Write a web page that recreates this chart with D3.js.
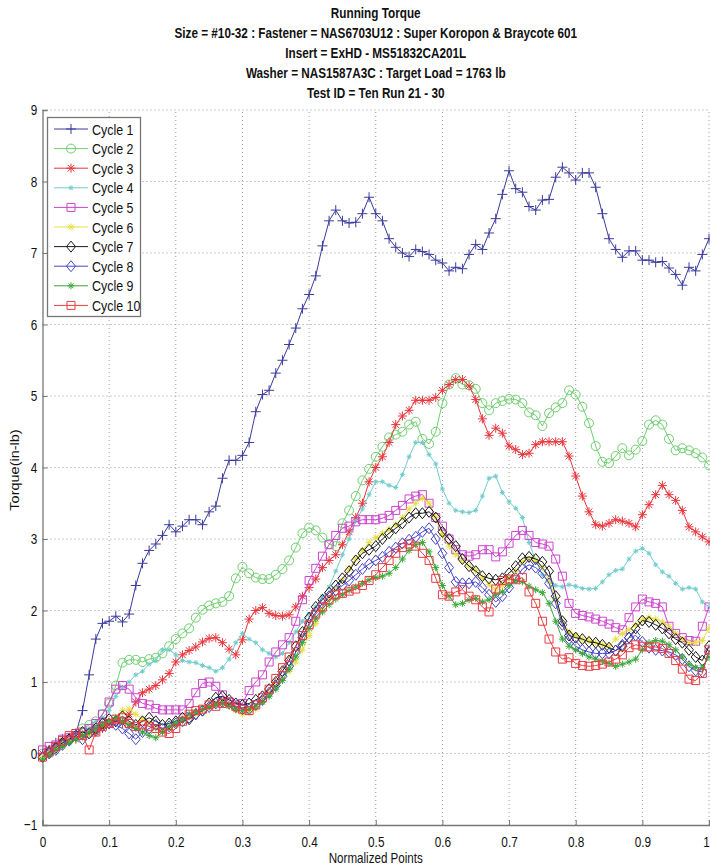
<!DOCTYPE html>
<html>
<head>
<meta charset="utf-8">
<script src="https://cdn.jsdelivr.net/npm/d3@7"></script>
<style>
body { margin: 0; background: #fff; }
text { font-family: "Liberation Sans", Arial, sans-serif; fill: #111; }
</style>
</head>
<body>
<svg id="chart" width="710" height="867"></svg>
<script>
var titleLines = [
  "Running Torque",
  "Size = #10-32 : Fastener = NAS6703U12 : Super Koropon & Braycote 601",
  "Insert = ExHD - MS51832CA201L",
  "Washer = NAS1587A3C : Target Load = 1763 lb",
  "Test ID = Ten Run 21 - 30"
];
var xLabel = "Normalized Points";
var yLabel = "Torque(in-lb)";
var seriesNames = ["Cycle 1","Cycle 2","Cycle 3","Cycle 4","Cycle 5","Cycle 6","Cycle 7","Cycle 8","Cycle 9","Cycle 10"];
var xTicks = [0,0.1,0.2,0.3,0.4,0.5,0.6,0.7,0.8,0.9,1];
var yTicks = [-1,0,1,2,3,4,5,6,7,8,9];

// normalized sample positions, 101 points
var points = d3.range(0, 101).map(function(i){ return i / 100; });

var cycle1 = [0.0,0.05,0.15,0.2,0.22,0.28,0.6,1.1,1.6,1.82, 1.85,1.92,1.84,1.95,2.35,2.66,2.84,2.93,3.05,3.2,
  3.1,3.18,3.27,3.27,3.2,3.38,3.46,3.85,4.1,4.1, 4.17,4.35,4.78,5.02,5.08,5.32,5.5,5.72,5.95,6.22,
  6.42,6.68,7.1,7.45,7.6,7.45,7.42,7.43,7.55,7.78, 7.55,7.45,7.2,7.08,7.0,6.95,7.05,7.02,6.98,6.9,
  6.86,6.75,6.8,6.78,6.98,7.12,7.05,7.28,7.48,7.82, 8.15,7.9,7.85,7.65,7.6,7.74,7.75,8.06,8.2,8.12,
  8.02,8.12,8.12,7.92,7.55,7.2,7.05,6.94,7.03,7.03, 6.9,6.9,6.87,6.88,6.79,6.7,6.55,6.8,6.75,6.98, 7.2];
var cycle2 = [0.0,0.02,0.1,0.15,0.2,0.25,0.35,0.4,0.45,0.55, 0.7,0.95,1.27,1.31,1.31,1.28,1.32,1.34,1.4,1.5,
  1.6,1.68,1.75,1.9,2.01,2.07,2.1,2.12,2.2,2.45, 2.61,2.52,2.46,2.44,2.44,2.5,2.58,2.7,2.88,3.08,
  3.16,3.12,3.02,2.93,2.9,3.22,3.4,3.6,3.82,3.98, 4.15,4.29,4.42,4.46,4.5,4.6,4.64,4.4,4.33,4.5,
  4.9,5.16,5.25,5.16,5.15,5.1,4.9,4.8,4.9,4.93, 4.96,4.95,4.9,4.77,4.73,4.58,4.76,4.84,4.9,5.08,
  5.02,4.85,4.62,4.3,4.08,4.06,4.16,4.27,4.17,4.25, 4.37,4.6,4.66,4.6,4.4,4.24,4.27,4.24,4.2,4.14, 4.03];
var cycle3 = [0.0,0.05,0.1,0.15,0.2,0.2,0.25,0.3,0.3,0.35, 0.4,0.45,0.42,0.55,0.72,0.85,0.9,0.95,1.03,1.12,
  1.28,1.38,1.44,1.49,1.56,1.61,1.62,1.55,1.46,1.38, 1.59,1.88,2.0,2.04,1.96,1.93,1.92,1.94,2.05,2.2,
  2.32,2.44,2.6,2.7,2.78,2.92,3.1,3.3,3.5,3.8, 4.0,4.15,4.35,4.6,4.72,4.8,4.94,4.94,4.94,4.98,
  5.08,5.16,5.23,5.23,5.14,4.95,4.68,4.45,4.55,4.48, 4.3,4.25,4.18,4.2,4.32,4.36,4.36,4.36,4.36,4.16,
  3.88,3.6,3.38,3.2,3.18,3.22,3.27,3.25,3.22,3.17, 3.34,3.48,3.62,3.75,3.62,3.54,3.4,3.17,3.1,3.03, 2.96];
var cycle4 = [0.0,0.05,0.1,0.15,0.2,0.2,0.3,0.35,0.45,0.5, 0.6,0.8,0.92,1.0,1.1,1.15,1.25,1.3,1.45,1.45,
  1.38,1.3,1.28,1.27,1.23,1.2,1.15,1.2,1.32,1.55, 1.68,1.6,1.55,1.45,1.4,1.35,1.4,1.55,1.7,1.85,
  1.95,2.05,2.2,2.33,2.55,2.78,3.0,3.25,3.42,3.62, 3.8,3.8,3.75,3.72,3.9,4.15,4.35,4.35,4.18,4.05,
  3.7,3.5,3.4,3.38,3.37,3.4,3.6,3.85,3.88,3.65, 3.52,3.43,3.3,2.95,2.7,2.5,2.4,2.35,2.33,2.36,
  2.34,2.31,2.3,2.31,2.4,2.5,2.56,2.58,2.72,2.83, 2.87,2.8,2.64,2.54,2.48,2.38,2.3,2.32,2.3,2.12, 2.05];
var cycle5 = [0.05,0.1,0.12,0.2,0.22,0.25,0.3,0.35,0.42,0.55, 0.72,0.9,0.95,0.9,0.78,0.7,0.68,0.63,0.61,0.61,
  0.61,0.61,0.7,0.85,0.98,1.0,0.94,0.82,0.72,0.68, 0.7,0.88,1.0,1.1,1.28,1.42,1.52,1.62,1.85,2.15,
  2.42,2.59,2.76,2.92,3.05,3.15,3.18,3.24,3.27,3.27, 3.27,3.29,3.33,3.4,3.47,3.56,3.6,3.62,3.5,3.3,
  3.18,3.0,2.85,2.78,2.76,2.78,2.85,2.85,2.75,2.82, 2.94,3.05,3.12,3.05,2.95,2.93,2.9,2.72,2.48,2.1,
  1.96,1.93,1.91,1.88,1.85,1.81,1.76,1.73,1.9,2.05, 2.16,2.12,2.1,2.05,1.78,1.68,1.62,1.58,1.57,1.78, 2.05];
var cycle6 = [-0.05,0.0,0.08,0.12,0.18,0.2,0.22,0.25,0.32,0.38, 0.45,0.5,0.6,0.62,0.55,0.48,0.42,0.35,0.3,0.35,
  0.4,0.45,0.5,0.55,0.6,0.65,0.7,0.72,0.68,0.6, 0.55,0.57,0.62,0.72,0.85,0.95,1.05,1.15,1.28,1.45,
  1.65,1.82,2.0,2.15,2.3,2.42,2.58,2.72,2.84,2.95, 3.02,3.08,3.13,3.2,3.3,3.42,3.5,3.57,3.5,3.3,
  3.05,2.9,2.78,2.7,2.62,2.56,2.46,2.36,2.3,2.35, 2.45,2.55,2.68,2.72,2.7,2.6,2.42,2.15,1.85,1.7,
  1.65,1.6,1.58,1.55,1.52,1.5,1.6,1.68,1.73,1.8, 1.87,1.9,1.88,1.84,1.78,1.68,1.6,1.55,1.55,1.58, 1.75];
var cycle7 = [-0.05,0.02,0.08,0.15,0.2,0.25,0.3,0.28,0.35,0.42, 0.48,0.45,0.52,0.45,0.4,0.45,0.5,0.45,0.4,0.42,
  0.45,0.5,0.48,0.55,0.6,0.7,0.78,0.8,0.75,0.7, 0.68,0.7,0.75,0.8,0.9,1.0,1.15,1.3,1.5,1.7,
  1.9,2.05,2.15,2.25,2.35,2.45,2.55,2.7,2.8,2.85, 2.9,3.0,3.08,3.15,3.22,3.3,3.36,3.36,3.38,3.3,
  3.1,3.0,2.9,2.72,2.62,2.55,2.48,2.45,2.43,2.45, 2.52,2.62,2.73,2.75,2.72,2.68,2.55,2.2,1.85,1.65,
  1.62,1.6,1.56,1.55,1.52,1.48,1.44,1.5,1.62,1.75, 1.86,1.84,1.8,1.75,1.68,1.6,1.55,1.45,1.35,1.3, 1.5];
var cycle8 = [-0.05,0.0,0.05,0.12,0.18,0.25,0.2,0.28,0.32,0.38, 0.42,0.4,0.35,0.28,0.2,0.3,0.35,0.4,0.35,0.38,
  0.42,0.45,0.5,0.55,0.6,0.65,0.7,0.72,0.7,0.65, 0.62,0.62,0.68,0.75,0.85,0.95,1.08,1.22,1.42,1.62,
  1.82,1.98,2.1,2.2,2.28,2.35,2.42,2.5,2.58,2.65, 2.7,2.75,2.82,2.88,2.94,2.99,3.03,3.1,3.15,3.0,
  2.8,2.6,2.4,2.38,2.38,2.4,2.32,2.22,2.12,2.2, 2.32,2.45,2.58,2.64,2.6,2.52,2.38,2.1,1.8,1.6,
  1.5,1.45,1.42,1.4,1.4,1.4,1.44,1.52,1.62,1.65, 1.56,1.48,1.45,1.44,1.42,1.38,1.32,1.22,1.16,1.14, 1.42];
var cycle9 = [-0.08,-0.02,0.05,0.1,0.15,0.2,0.25,0.3,0.35,0.4, 0.45,0.5,0.45,0.4,0.35,0.3,0.25,0.22,0.3,0.38,
  0.42,0.48,0.55,0.58,0.62,0.65,0.68,0.7,0.66,0.62, 0.6,0.62,0.66,0.72,0.8,0.9,1.02,1.18,1.35,1.55,
  1.75,1.88,1.98,2.08,2.16,2.22,2.28,2.33,2.38,2.43, 2.46,2.48,2.52,2.6,2.72,2.84,2.92,2.95,2.82,2.6,
  2.35,2.2,2.08,2.1,2.15,2.17,2.12,2.15,2.22,2.26, 2.35,2.42,2.4,2.34,2.29,2.25,2.1,1.85,1.6,1.5,
  1.45,1.4,1.35,1.32,1.29,1.26,1.22,1.25,1.28,1.32, 1.45,1.55,1.58,1.57,1.52,1.45,1.35,1.25,1.2,1.2, 1.35];
var cycle10 = [-0.05,0.02,0.1,0.18,0.25,0.28,0.25,0.05,0.3,0.38, 0.42,0.48,0.5,0.42,0.38,0.4,0.38,0.35,0.3,0.28,
  0.35,0.45,0.55,0.6,0.62,0.68,0.66,0.7,0.72,0.66, 0.62,0.6,0.68,0.78,0.9,1.05,1.2,1.35,1.5,1.65,
  1.8,1.95,2.05,2.15,2.22,2.24,2.27,2.3,2.35,2.42, 2.5,2.6,2.7,2.8,2.88,2.93,2.9,2.8,2.7,2.45,
  2.22,2.2,2.26,2.29,2.2,2.15,2.05,1.98,2.3,2.42, 2.44,2.43,2.46,2.26,2.1,1.85,1.6,1.42,1.32,1.34,
  1.26,1.23,1.22,1.23,1.25,1.28,1.32,1.38,1.48,1.52, 1.5,1.49,1.49,1.47,1.4,1.3,1.18,1.04,1.02,1.12, 1.45];

var seriesValues = [cycle1, cycle2, cycle3, cycle4, cycle5, cycle6, cycle7, cycle8, cycle9, cycle10];
var seriesColors = ["#3b3b9e","#6fcf6f","#e8343a","#70cccc","#cc44cc","#e6e040","#1a1a1a","#4646c8","#38a838","#e83c40"];
var seriesMarkers = ["plus","circle","star","dot","square","smallstar","diamond","diamond","smallstar","square"];

var width = 710, height = 867;
var margin = {left: 42.5, right: 1, top: 110, bottom: 42};
var svg = d3.select("#chart");

var xScale = d3.scaleLinear().domain([0, 1]).range([margin.left, width - margin.right]);
var yScale = d3.scaleLinear().domain([-1, 9]).range([height - margin.bottom, margin.top]);

function markerPath(type) {
  if (type == "plus") return "M-5,0H5M0,-5V5";
  if (type == "circle") return "M4.5,0A4.5,4.5 0 1,1 -4.5,0A4.5,4.5 0 1,1 4.5,0";
  if (type == "star") return "M-4.5,0H4.5M0,-4.5V4.5M-3.3,-3.3L3.3,3.3M-3.3,3.3L3.3,-3.3";
  if (type == "smallstar") return "M-3.5,0H3.5M0,-3.5V3.5M-2.5,-2.5L2.5,2.5M-2.5,2.5L2.5,-2.5";
  if (type == "dot") return "M-2.5,0H2.5M0,-2.5V2.5M-1.8,-1.8L1.8,1.8M-1.8,1.8L1.8,-1.8";
  if (type == "square") return "M-4,-4H4V4H-4Z";
  if (type == "diamond") return "M0,-5.5L4.5,0L0,5.5L-4.5,0Z";
  return "";
}

// grid
svg.append("g")
  .selectAll("line")
  .data(xTicks.slice(1))
  .enter()
  .append("line")
  .attr("x1", function(d){ return xScale(d); })
  .attr("x2", function(d){ return xScale(d); })
  .attr("y1", yScale(-1))
  .attr("y2", yScale(9))
  .style("stroke", "#9a9a9a")
  .style("stroke-dasharray", "1,3");

svg.append("g")
  .selectAll("line")
  .data(yTicks.slice(1))
  .enter()
  .append("line")
  .attr("x1", xScale(0))
  .attr("x2", xScale(1))
  .attr("y1", function(d){ return yScale(d); })
  .attr("y2", function(d){ return yScale(d); })
  .style("stroke", "#9a9a9a")
  .style("stroke-dasharray", "1,3");

// axes
var xAxis = d3.axisBottom(xScale).tickValues(xTicks).tickSize(-5).tickPadding(11)
  .tickFormat(function(d){ return d3.format("")(d); });
var yAxis = d3.axisLeft(yScale).tickValues(yTicks).tickSize(-5).tickPadding(7)
  .tickFormat(function(d){ return d < 0 ? "\u2212" + Math.abs(d) : String(d); });

var gx = svg.append("g").attr("transform", "translate(0," + yScale(-1) + ")").call(xAxis);
var gy = svg.append("g").attr("transform", "translate(" + xScale(0) + ",0)").call(yAxis);
[gx, gy].forEach(function(g){
  g.select(".domain").style("stroke", "#777").style("stroke-width", 1.3);
  g.selectAll(".tick line").style("stroke", "#777");
  g.selectAll(".tick text").style("font-size", "15.5px").style("fill", "#111")
    .style("font-family", "\"Liberation Sans\", Arial, sans-serif")
    .attr("transform", "scale(0.76,1)");
});
// keep the last label inside the picture
gx.selectAll(".tick text").attr("x", function(d){ return d == 1 ? -4 : 0; });

// series lines and markers
var line = d3.line()
  .x(function(d){ return xScale(d[0]); })
  .y(function(d){ return yScale(d[1]); });

seriesValues.forEach(function(vals, k){
  var data = points.map(function(p, i){ return [p, vals[i]]; });
  var g = svg.append("g").attr("id", "cycle" + (k + 1));
  g.append("path")
    .attr("d", line(data))
    .style("fill", "none")
    .style("stroke", seriesColors[k])
    .style("stroke-width", 1);
  g.selectAll("path.mk")
    .data(data)
    .enter()
    .append("path")
    .attr("class", "mk")
    .attr("transform", function(d){ return "translate(" + xScale(d[0]) + "," + yScale(d[1]) + ")"; })
    .attr("d", markerPath(seriesMarkers[k]))
    .style("fill", "none")
    .style("stroke", seriesColors[k])
    .style("stroke-width", 1);
});

// titles
var cx = (xScale(0) + xScale(1)) / 2;
svg.append("g")
  .selectAll("text")
  .data(titleLines)
  .enter()
  .append("text")
  .attr("transform", function(d, i){ return "translate(" + cx + "," + (18 + i * 20) + ") scale(0.84,1)"; })
  .attr("text-anchor", "middle")
  .style("font-size", "14px")
  .style("font-weight", "bold")
  .text(function(d){ return d; });

svg.append("text")
  .attr("transform", "translate(" + cx + ",863) scale(0.8,1)")
  .attr("text-anchor", "middle")
  .style("font-size", "14.5px")
  .text(xLabel);

svg.append("text")
  .attr("transform", "translate(19,470) rotate(-90) scale(1,0.9)")
  .attr("text-anchor", "middle")
  .style("font-size", "14.5px")
  .text(yLabel);

// legend
var legend = svg.append("g").attr("id", "legend");
legend.append("rect")
  .attr("x", 47.5)
  .attr("y", 117.5)
  .attr("width", 93)
  .attr("height", 199)
  .style("fill", "#fff")
  .style("stroke", "#777")
  .style("stroke-width", 1.3);

var items = legend.selectAll("g.item")
  .data(seriesNames)
  .enter()
  .append("g")
  .attr("class", "item")
  .attr("transform", function(d, i){ return "translate(0," + (129 + i * 19.6) + ")"; });
items.append("line")
  .attr("x1", 54).attr("x2", 88).attr("y1", 0).attr("y2", 0)
  .style("stroke", function(d, i){ return seriesColors[i]; });
items.append("path")
  .attr("transform", "translate(71,0)")
  .attr("d", function(d, i){ return markerPath(seriesMarkers[i]); })
  .style("fill", "none")
  .style("stroke", function(d, i){ return seriesColors[i]; });
items.append("text")
  .attr("transform", "translate(92,5.5) scale(0.83,1)")
  .style("font-size", "15px")
  .text(function(d){ return d; });
</script>
</body>
</html>
